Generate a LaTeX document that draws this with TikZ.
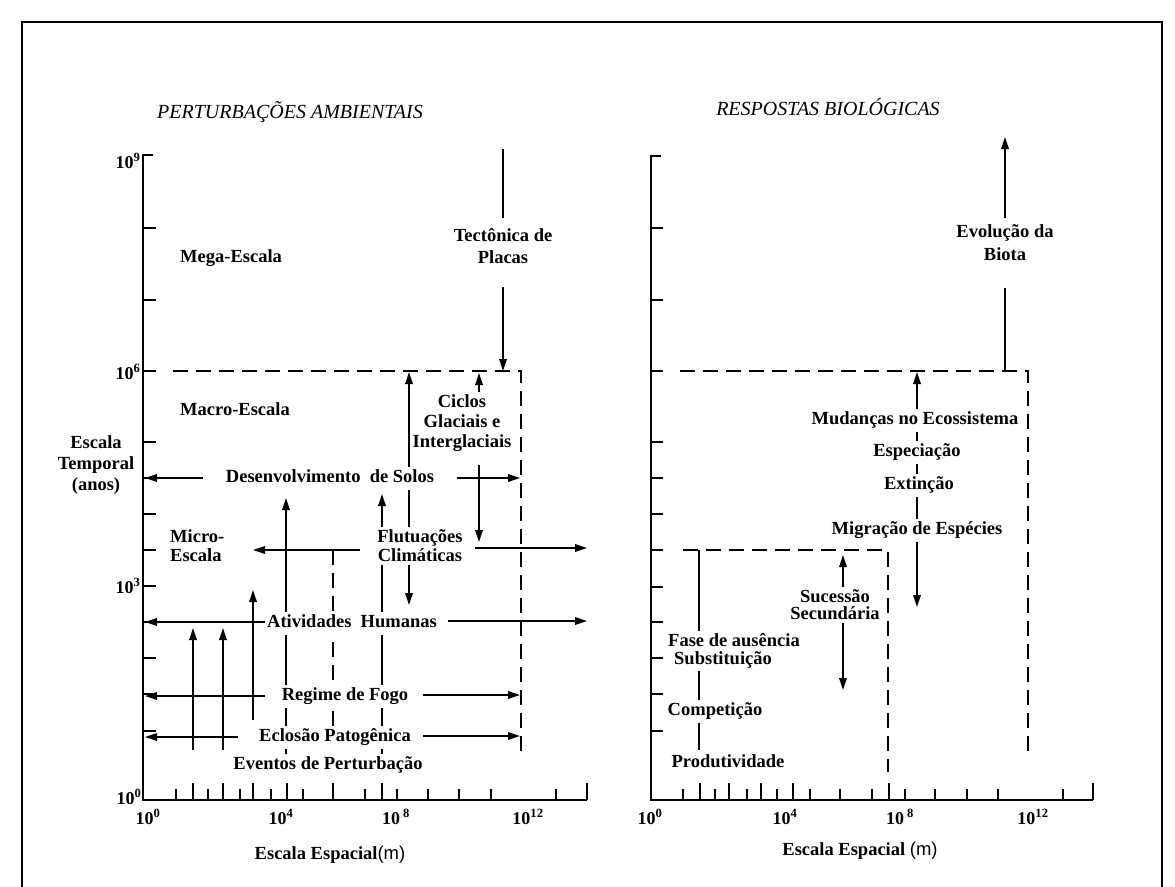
\documentclass[tikz,border=0pt]{standalone}
\usepackage{fontspec}
\setmainfont{Liberation Serif}
\newfontfamily\unitfont{Liberation Sans}
\usetikzlibrary{arrows.meta}

\tikzset{
  axisline/.style={line width=2.8pt},
  tickline/.style={line width=2pt},
  arr/.style={line width=1.8pt, -{Triangle[length=12pt,width=7.5pt]}},
  dualarr/.style={line width=1.8pt, {Triangle[length=12pt,width=7.5pt]}-{Triangle[length=12pt,width=7.5pt]}},
  seg/.style={line width=1.8pt},
  bound/.style={line width=2.4pt, dash pattern=on 15pt off 8pt},
  lbl/.style={font=\bfseries\fontsize{18.5}{19}\selectfont, inner sep=1pt},
  word/.style={lbl, text height=13pt, text depth=4pt},
  cut/.style={fill=white, inner xsep=2pt, inner ysep=3pt},
  ttl/.style={font=\itshape\fontsize{20}{24}\selectfont},
  num/.style={font=\bfseries\fontsize{18}{20}\selectfont, inner sep=1pt},
}

\begin{document}
\begin{tikzpicture}[x=1pt,y=-1pt]
\useasboundingbox (0,0) rectangle (1175,886);
\draw[line width=1.2pt] (22,890) |- (1162,22) -- (1162,890);

% ---------- left panel: axes
\draw[axisline] (153,155) -- (143,155) -- (143,800) -- (587,800);
\foreach \y in {228,300,371,442,478,514,550,586,622,658,694,731}
  \draw[tickline] (143,\y) -- ++(13,0);
\foreach \x/\h in {176/11,193/17,208/11,223/17,240/11,253/17,271/11,287/17,303/11,333/17,365/11,382/17,397/11,428/11,459/11,491/11,556/11,587/17}
  \draw[tickline] (\x,800) -- ++(0,-\h);
\node[num] (ya9) at (128,161) {10\textsuperscript{9}};
\node[num] (ya6) at (128,372) {10\textsuperscript{6}};
\node[num] (ya3) at (128,586) {10\textsuperscript{3}};
\node[num] (ya0) at (129,797) {10\textsuperscript{0}};
\node[num] (xa0) at (148,817) {10\textsuperscript{0}};
\node[num] (xa4) at (281,817) {10\textsuperscript{4}};
\node[num] (xa8) at (396,817) {10\,\textsuperscript{8}};
\node[num] (xa12) at (528,817) {10\textsuperscript{12}};

% ---------- left panel: bounds and arrows
\draw[bound] (173,371) -- (521,371) -- (521,756);
\draw[bound] (333,550) -- (333,755);
\draw[arr] (193,750) -- (193,628);
\draw[arr] (223,750) -- (223,628);
\draw[arr] (253,720) -- (253,590);
\draw[arr] (286,755) -- (286,498);
\draw[arr] (382,755) -- (382,494);
\draw[dualarr] (409,605) -- (409,372);
\draw[arr] (479,392) -- (479,373);
\draw[arr] (479,465) -- (479,542);
\draw[seg] (503,149) -- (503,218);
\draw[arr] (503,287) -- (503,371);
\draw[arr] (203,478) -- (145,478);
\draw[arr] (457,478) -- (520,478);
\draw[arr] (360,550) -- (253,550);
\draw[arr] (475,548) -- (587,548);
\draw[arr] (265,622) -- (145,622);
\draw[arr] (448,621) -- (587,621);
\draw[arr] (265,696) -- (145,696);
\draw[arr] (423,695) -- (520,695);
\draw[arr] (238,737) -- (145,737);
\draw[arr] (423,736) -- (520,736);

% ---------- left panel: labels
\node[ttl] (ttlperturb) at (290,112) {PERTURBAÇÕES AMBIENTAIS};
\node[word, anchor=west] (mega) at (179,258) {Mega-Escala};
\node[word, anchor=west] (macro) at (179,411) {Macro-Escala};
\node[lbl, anchor=west, align=left] (micro) at (169,546) {Micro-\\Escala};
\node[lbl, align=center] (tempo) at (96,465) {Escala\\[2pt]Temporal\\[2pt](anos)};
\node[lbl, align=center] (tecto) at (503,246) {Tectônica de\\[3pt]Placas};
\node[lbl, align=center] (ciclos) at (462,423) {Ciclos\\[1pt]Glaciais e\\[1pt]Interglaciais};
\node[word, cut] (solos) at (330,478) {Desenvolvimento~~de Solos};
\node[lbl, cut, align=center] (flut) at (420,546) {Flutuações\\Climáticas};
\node[word, cut] (ativ) at (352,623) {Atividades~~Humanas};
\node[word, cut] (fogo) at (345,696) {Regime de Fogo};
\node[word, cut] (eclos) at (335,737) {Eclosão Patogênica};
\node[word, cut] (event) at (328,765) {Eventos de Perturbação};
\node[lbl] (espleft) at (330,855) {Escala Espacial{\unitfont\mdseries(m)}};

% ---------- right panel: axes
\draw[axisline] (661,156) -- (651,156) -- (651,800) -- (1093,800);
\foreach \y in {228,300,371,442,478,514,550,587,622,658,694,731}
  \draw[tickline] (651,\y) -- ++(12,0);
\foreach \x/\h in {683/11,700/17,715/11,729/17,747/11,761/17,777/11,793/17,810/11,840/11,872/11,889/17,905/11,935/11,967/11,998/11,1063/11,1093/17}
  \draw[tickline] (\x,800) -- ++(0,-\h);
\node[num] (xb0) at (650,817) {10\textsuperscript{0}};
\node[num] (xb4) at (785,817) {10\textsuperscript{4}};
\node[num] (xb8) at (900,817) {10\,\textsuperscript{8}};
\node[num] (xb12) at (1033,817) {10\textsuperscript{12}};

% ---------- right panel: bounds and arrows
\draw[bound] (680,371) -- (1028,371) -- (1028,755);
\draw[bound] (683,550) -- (888,550) -- (888,772);
\draw[seg] (1005,371) -- (1005,288);
\draw[arr] (1005,218) -- (1005,137);
\draw[dualarr] (917,607) -- (917,372);
\draw[dualarr] (843,690) -- (843,555);
\draw[seg] (699,550) -- (699,750);

% ---------- right panel: labels
\node[ttl] (ttlbio) at (828,107) {RESPOSTAS BIOLÓGICAS};
\node[lbl, align=center] (evol) at (1005,243) {Evolução da\\[4pt]Biota};
\node[word, cut] (mudanca) at (915,420) {Mudanças no Ecossistema};
\node[word, cut] (especie) at (917,452) {Especiação};
\node[word, cut] (extin) at (919,485) {Extinção};
\node[word, cut] (migra) at (917,530) {Migração de Espécies};
\node[lbl, cut, align=center] (sucess) at (835,605) {Sucessão\\[-2pt]Secundária};
\node[lbl, cut, anchor=west, align=left] (fase) at (666,651) {Fase de ausência\\[-1pt]\hspace*{6pt}Substituição};
\node[word, cut] (compet) at (715,711) {Competição};
\node[word] (produt) at (728,763) {Produtividade};
\node[lbl] (espright) at (860,851) {Escala Espacial {\unitfont\mdseries(m)}};
\end{tikzpicture}
\end{document}
